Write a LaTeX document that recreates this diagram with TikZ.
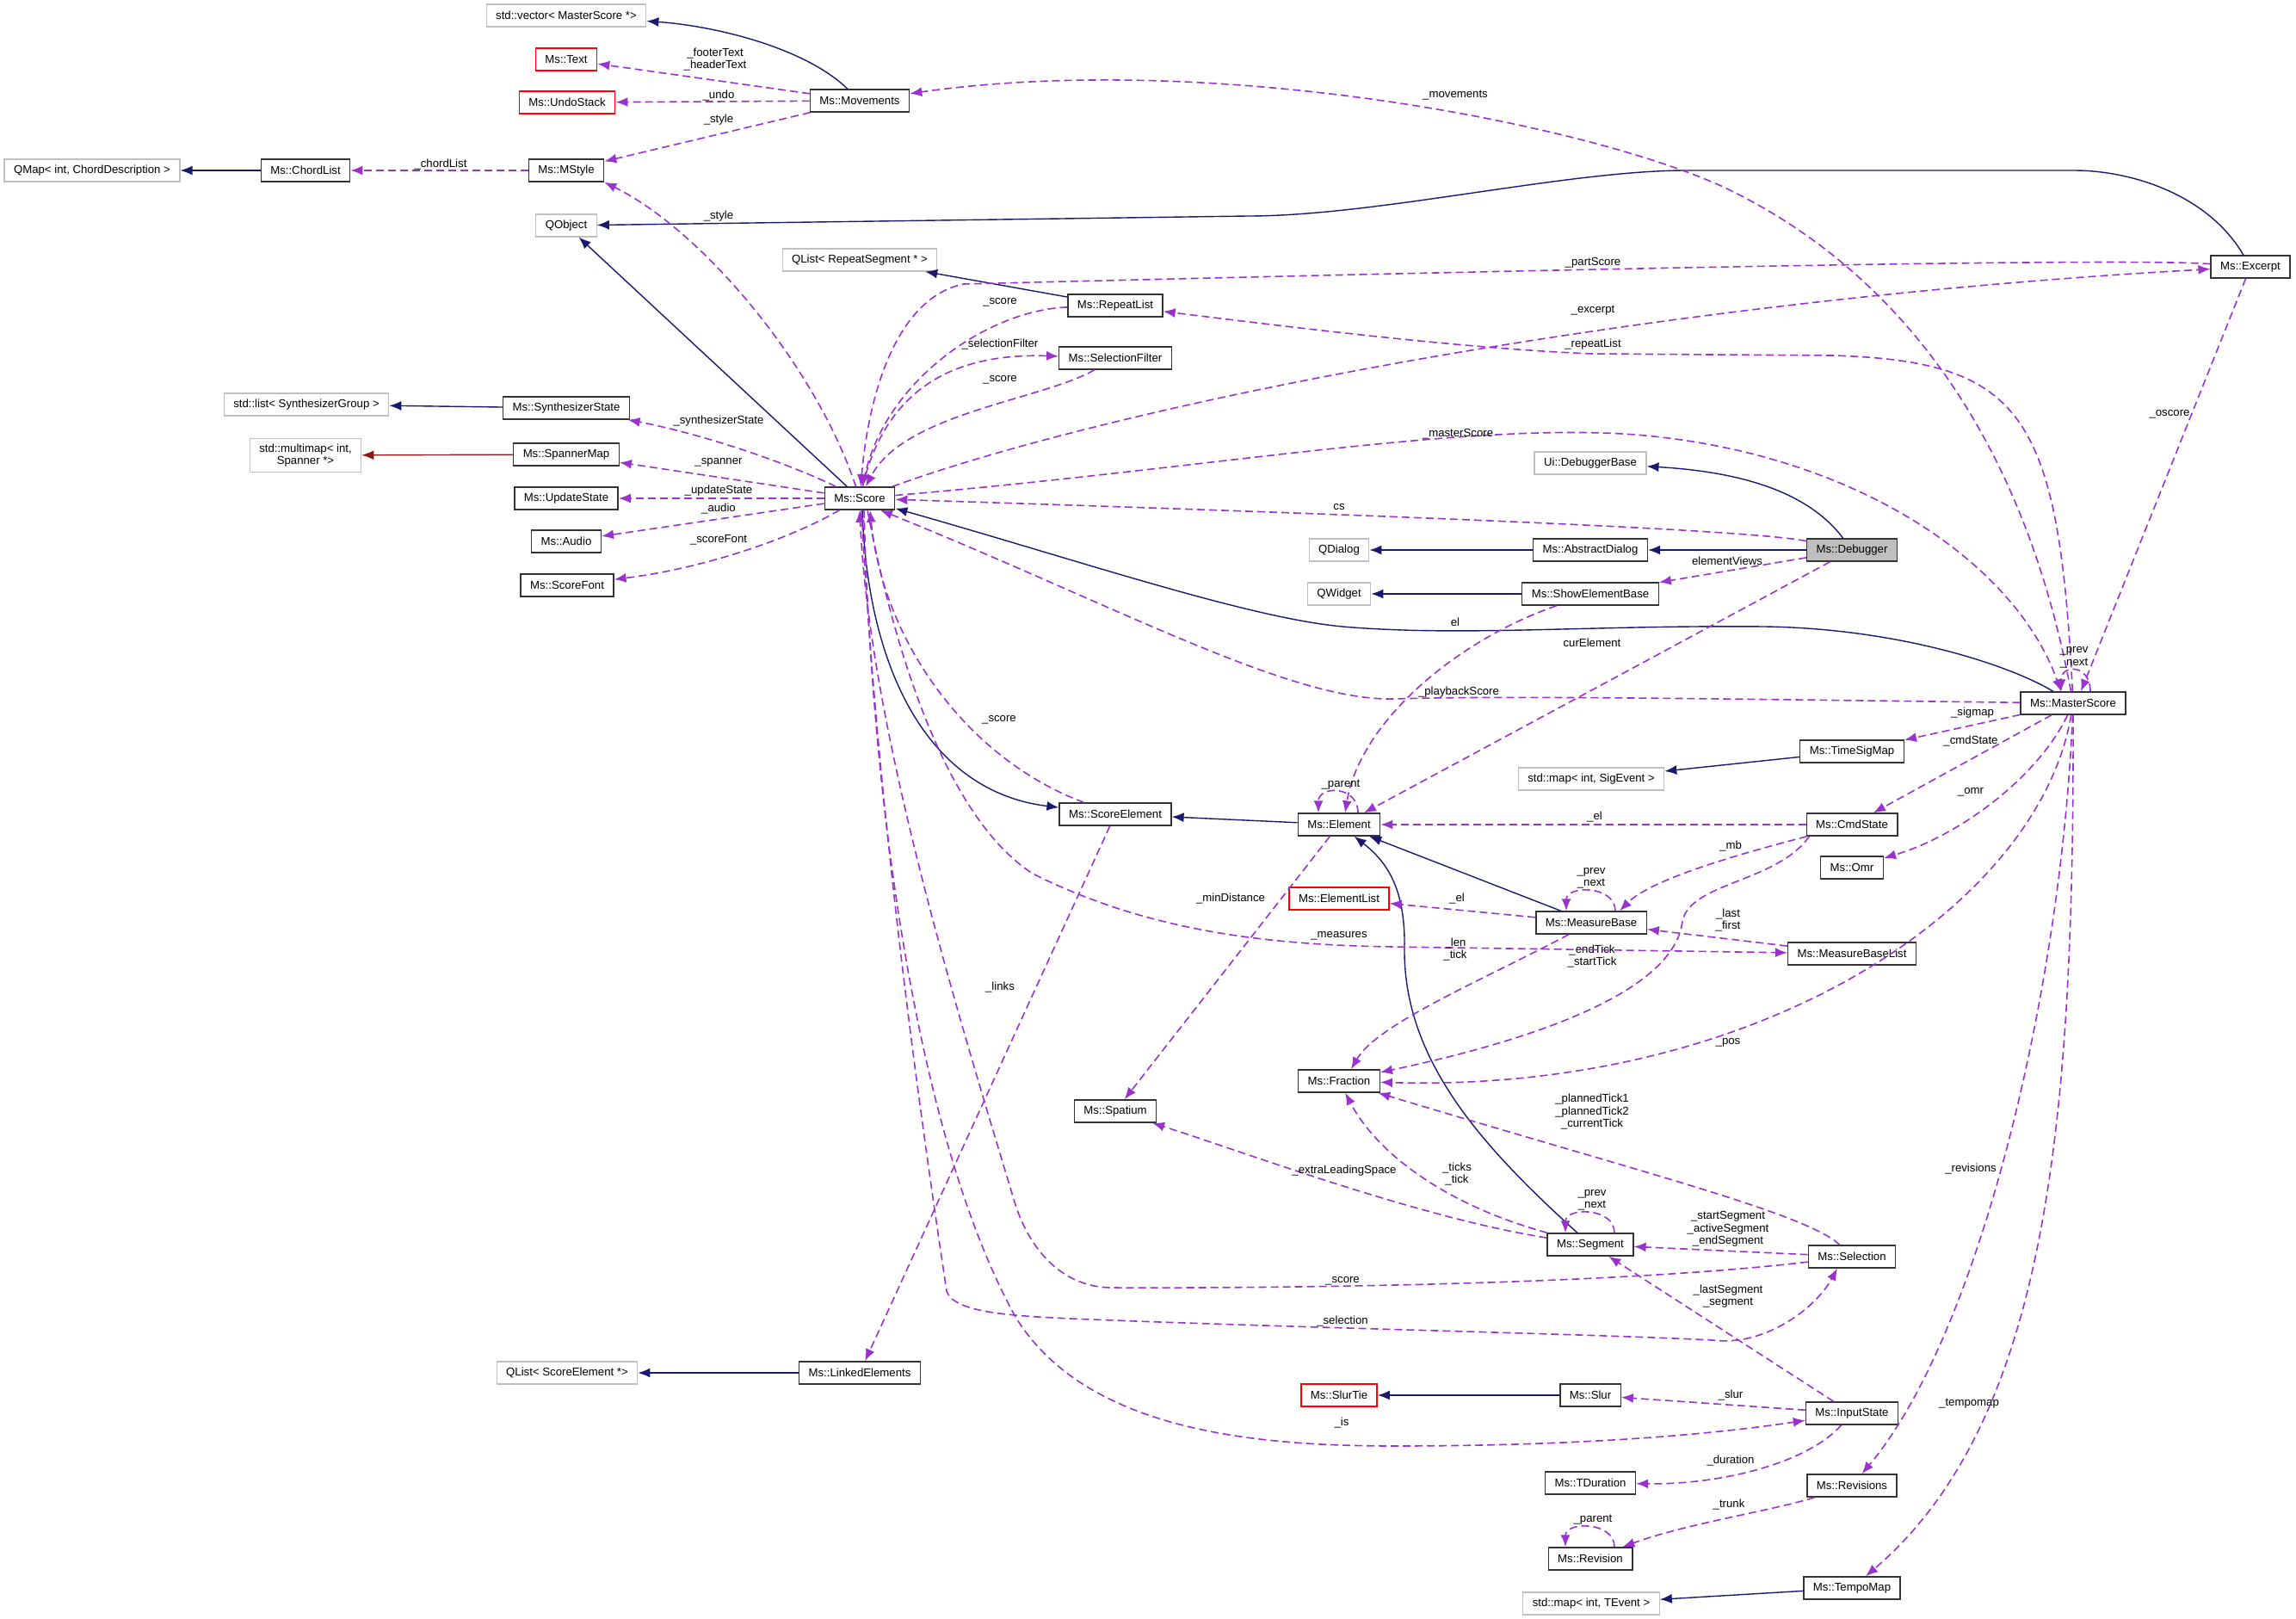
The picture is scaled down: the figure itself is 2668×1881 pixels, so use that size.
\documentclass[tikz,border=0pt]{standalone}
\usepackage{fontspec}
\setmainfont{Liberation Sans}
\usetikzlibrary{arrows.meta,positioning,calc}
\usepackage{xcolor}
\definecolor{midnight}{HTML}{191970}
\definecolor{orchid}{HTML}{9A32CD}
\definecolor{firebrick}{HTML}{8B1A1A}
\definecolor{grey75}{HTML}{BFBFBF}
\definecolor{boxline}{HTML}{333333}
\newcommand{\dxfont}{\fontsize{13.2}{14.5}\selectfont}
\tikzset{
  base/.style={font=\dxfont,align=center,draw=boxline,line width=1.4pt,fill=white,inner xsep=11pt,inner ysep=2pt,minimum height=26pt},
  cls/.style={base},
  ext/.style={base,draw=grey75,line width=1.2pt},
  undoc/.style={base,draw=red},
  root/.style={base,fill=grey75},
  inh/.style={-{Latex[length=14pt,width=11pt]},line width=1.4pt,draw=midnight},
  prot/.style={inh,draw=firebrick},
  use/.style={-{Latex[length=14pt,width=11pt]},line width=1.6pt,draw=orchid,dash pattern=on 9pt off 5pt},
  lbl/.style={font=\dxfont,align=center,inner sep=0pt}
}

\begin{document}
\begin{tikzpicture}[x=1pt,y=-1pt]
\useasboundingbox (0,0) rectangle (2668,1881);

\node[ext] (vecms) at (658,18) {std::vector< MasterScore *>};
\node[undoc] (text) at (658,69) {Ms::Text};
\node[undoc] (undostack) at (659,119) {Ms::UndoStack};
\node[cls] (movements) at (999,117) {Ms::Movements};
\node[cls] (mstyle) at (658,198) {Ms::MStyle};
\node[cls] (chordlist) at (355,198) {Ms::ChordList};
\node[ext] (qmapchord) at (107,198) {QMap< int, ChordDescription >};
\node[ext] (qobject) at (658,262) {QObject};
\node[ext] (qlistrep) at (999,302) {QList< RepeatSegment * >};
\node[ext] (synthgroup) at (356,470) {std::list< SynthesizerGroup >};
\node[cls] (synthstate) at (658,474) {Ms::SynthesizerState};
\node[ext,inner ysep=6pt] (spanmulti) at (355,529) {std::multimap< int,\\Spanner *>};
\node[cls] (spannermap) at (658,528) {Ms::SpannerMap};
\node[cls] (updatestate) at (658,579) {Ms::UpdateState};
\node[cls] (score) at (999,579) {Ms::Score};
\node[cls] (audio) at (658,629) {Ms::Audio};
\node[cls] (scorefont) at (659,680) {Ms::ScoreFont};
\node[cls] (excerpt) at (2615,310) {Ms::Excerpt};
\node[cls] (repeatlist) at (1296,355) {Ms::RepeatList};
\node[cls] (selfilter) at (1296,416) {Ms::SelectionFilter};
\node[ext] (dbgbase) at (1848,538) {Ui::DebuggerBase};
\node[root] (debugger) at (2152,639) {Ms::Debugger};
\node[cls] (absdialog) at (1848,639) {Ms::AbstractDialog};
\node[ext] (qdialog) at (1556,639) {QDialog};
\node[cls] (showelem) at (1848,690) {Ms::ShowElementBase};
\node[ext] (qwidget) at (1556,690) {QWidget};
\node[cls] (masterscore) at (2409,817) {Ms::MasterScore};
\node[cls] (timesigmap) at (2152,873) {Ms::TimeSigMap};
\node[ext] (sigevmap) at (1849,905) {std::map< int, SigEvent >};
\node[cls] (element) at (1556,958) {Ms::Element};
\node[cls] (cmdstate) at (2152,958) {Ms::CmdState};
\node[cls] (omr) at (2152,1008) {Ms::Omr};
\node[cls] (scoreelem) at (1296,946) {Ms::ScoreElement};
\node[undoc] (elemlist) at (1556,1044) {Ms::ElementList};
\node[cls] (measurebase) at (1849,1072) {Ms::MeasureBase};
\node[cls] (mblist) at (2152,1108) {Ms::MeasureBaseList};
\node[cls] (fraction) at (1556,1256) {Ms::Fraction};
\node[cls] (spatium) at (1296,1291) {Ms::Spatium};
\node[cls] (segment) at (1848,1446) {Ms::Segment};
\node[cls] (selection) at (2152,1460) {Ms::Selection};
\node[cls] (linked) at (999,1595) {Ms::LinkedElements};
\node[ext] (qlistse) at (659,1595) {QList< ScoreElement *>};
\node[undoc] (slurtie) at (1556,1621) {Ms::SlurTie};
\node[cls] (slur) at (1848,1621) {Ms::Slur};
\node[cls] (inputstate) at (2152,1642) {Ms::InputState};
\node[cls] (tduration) at (1848,1723) {Ms::TDuration};
\node[cls] (revisions) at (2152,1726) {Ms::Revisions};
\node[cls] (revision) at (1848,1811) {Ms::Revision};
\node[cls] (tempomap) at (2152,1845) {Ms::TempoMap};
\node[ext] (tevmap) at (1849,1863) {std::map< int, TEvent >};

\draw[inh] (movements) .. controls (935,55) and (830,30) .. (vecms);
\draw[inh] (chordlist) -- (qmapchord);
\draw[inh] (excerpt) .. controls (2565,225) and (2475,198) .. (2410,198) -- (1960,198) .. controls (1820,198) and (1600,251) .. (1450,251) -- (qobject);
\draw[inh] (score) -- (qobject);
\draw[inh] (repeatlist) -- (qlistrep);
\draw[inh] (synthstate) -- (synthgroup);
\draw[prot] (spannermap) -- (spanmulti);
\draw[inh] (debugger) .. controls (2100,570) and (2020,548) .. (dbgbase);
\draw[inh] (debugger) -- (absdialog);
\draw[inh] (absdialog) -- (qdialog);
\draw[inh] (showelem) -- (qwidget);
\draw[inh] (masterscore) .. controls (2330,770) and (2200,730) .. (2050,728) .. controls (1850,726) and (1700,740) .. (1560,728) .. controls (1450,718) and (1250,650) .. (score);
\draw[inh] ([xshift=3pt]score.south) .. controls (1008,780) and (1080,920) .. (scoreelem);
\draw[inh] (element) -- (scoreelem);
\draw[inh] (measurebase) -- (element);
\draw[inh] (segment) .. controls (1720,1330) and (1630,1230) .. (1632,1100) .. controls (1633,1030) and (1610,1000) .. (element);
\draw[inh] (timesigmap) -- (sigevmap);
\draw[inh] (slur) -- (slurtie);
\draw[inh] (linked) -- (qlistse);
\draw[inh] (tempomap) -- (tevmap);

\draw[use] (movements) -- (text) node[lbl] at (831,69) {\_footerText\\\_headerText};
\draw[use] (movements) -- (undostack) node[lbl] at (835,111) {\_undo};
\draw[use] (movements) -- (mstyle) node[lbl] at (835,139) {\_style};
\draw[use] (mstyle) -- (chordlist) node[lbl] at (512,191) {\_chordList};
\draw[use] (score) .. controls (950,430) and (820,270) .. (mstyle.south east) node[lbl] at (835,251) {\_style};
\draw[use] (masterscore) .. controls (2350,500) and (2200,310) .. (2000,216) .. controls (1830,140) and (1400,60) .. (movements) node[lbl] at (1691,111) {\_movements};
\draw[use] (excerpt) .. controls (2450,298) and (1600,318) .. (1120,330) .. controls (1045,345) and (1010,450) .. (score) node[lbl] at (1851,305) {\_partScore};
\draw[use] (repeatlist) .. controls (1150,360) and (1030,440) .. (score) node[lbl] at (1162,351) {\_score};
\draw[use] (score) .. controls (1030,450) and (1110,410) .. (selfilter) node[lbl] at (1162,400) {\_selectionFilter};
\draw[use] (selfilter) .. controls (1210,465) and (1050,480) .. (score) node[lbl] at (1162,441) {\_score};
\draw[use] (score) .. controls (1300,470) and (1900,350) .. (excerpt) node[lbl] at (1851,361) {\_excerpt};
\draw[use] (masterscore) .. controls (2392,480) and (2350,420) .. (2130,413) -- (1850,411) .. controls (1700,405) and (1500,380) .. (repeatlist) node[lbl] at (1851,400) {\_repeatList};
\draw[use] (excerpt) -- ([xshift=9pt]masterscore.north) node[lbl] at (2521,481) {\_oscore};
\draw[use] (score) .. controls (1400,545) and (1700,490) .. (1900,505) .. controls (2150,525) and (2340,650) .. ([xshift=-14pt]masterscore.north) node[lbl] at (1694,504) {\_masterScore};
\draw[use] (debugger) .. controls (2030,615) and (1600,598) .. (score) node[lbl] at (1556,589) {cs};
\draw[use] (debugger) -- (showelem) node[lbl] at (2007,652) {elementViews};
\draw[use] (debugger) -- ([xshift=29pt]element.north) node[lbl] at (1850,747) {curElement};
\draw[use] (showelem) .. controls (1690,745) and (1580,840) .. ([xshift=7pt]element.north) node[lbl] at (1691,723) {el};
\draw[use] (masterscore) .. controls (2000,812) and (1750,808) .. (1620,812) .. controls (1500,815) and (1300,705) .. ([xshift=24pt]score.south) node[lbl] at (1695,804) {\_playbackScore};
\draw[use] ([xshift=20pt]masterscore.north) .. controls +(0,-32) and +(0,-32) .. ([xshift=-14pt]masterscore.north) node[lbl] at (2410,764) {\_prev\\\_next};
\draw[use] (masterscore) -- (timesigmap) node[lbl] at (2292,828) {\_sigmap};
\draw[use] (masterscore) -- (cmdstate) node[lbl] at (2290,861) {\_cmdState};
\draw[use] (masterscore) .. controls (2370,900) and (2280,970) .. (omr) node[lbl] at (2290,920) {\_omr};
\draw[use] ([xshift=22pt]element.north) .. controls +(0,-32) and +(0,-32) .. ([xshift=-24pt]element.north) node[lbl] at (1558,912) {\_parent};
\draw[use] (cmdstate) -- (element) node[lbl] at (1853,949) {\_el};
\draw[use] (cmdstate) .. controls (2030,990) and (1920,1020) .. ([xshift=33pt]measurebase.north) node[lbl] at (2011,983) {\_mb};
\draw[use] ([xshift=4pt]cmdstate.south west) .. controls (2065,1025) and (1965,1025) .. (1955,1070) .. controls (1945,1160) and (1750,1215) .. (fraction) node[lbl] at (1850,1111) {\_endTick\\\_startTick};
\draw[use] ([xshift=28pt]measurebase.north) .. controls +(0,-30) and +(0,-30) .. ([xshift=-29pt]measurebase.north) node[lbl] at (1849,1020) {\_prev\\\_next};
\draw[use] (measurebase) -- (elemlist) node[lbl] at (1693,1044) {\_el};
\draw[use] (mblist) -- (measurebase) node[lbl] at (2008,1069) {\_last\\\_first};
\draw[use] ([xshift=9pt]score.south) .. controls (1040,760) and (1100,950) .. (1200,1015) .. controls (1320,1075) and (1450,1098) .. (1620,1100) -- (mblist) node[lbl] at (1556,1087) {\_measures};
\draw[use] (measurebase) .. controls (1720,1140) and (1600,1190) .. ([xshift=14pt]fraction.north) node[lbl] at (1691,1103) {\_len\\\_tick};
\draw[use] (masterscore) .. controls (2370,1050) and (2050,1270) .. (fraction) node[lbl] at (2008,1211) {\_pos};
\draw[use] (element) -- (spatium) node[lbl] at (1430,1044) {\_minDistance};
\draw[use] (scoreelem) .. controls (1120,880) and (1025,740) .. ([xshift=12pt]score.south) node[lbl] at (1161,836) {\_score};
\draw[use] (scoreelem) -- (linked) node[lbl] at (1162,1147) {\_links};
\draw[use] (selection) .. controls (2100,1410) and (1900,1360) .. (fraction) node[lbl] at (1850,1292) {\_plannedTick1\\\_plannedTick2\\\_currentTick};
\draw[use] (segment) .. controls (1650,1415) and (1450,1340) .. (spatium) node[lbl] at (1562,1360) {\_extraLeadingSpace};
\draw[use] (segment) .. controls (1680,1400) and (1600,1340) .. (fraction) node[lbl] at (1693,1364) {\_ticks\\\_tick};
\draw[use] ([xshift=28pt]segment.north) .. controls +(0,-30) and +(0,-30) .. ([xshift=-29pt]segment.north) node[lbl] at (1850,1394) {\_prev\\\_next};
\draw[use] (selection) -- (segment) node[lbl] at (2008,1428) {\_startSegment\\\_activeSegment\\\_endSegment};
\draw[use] (selection) .. controls (1900,1490) and (1550,1497) .. (1290,1496) .. controls (1240,1495) and (1200,1460) .. (1180,1400) .. controls (1120,1200) and (1010,850) .. (score.south) node[lbl] at (1560,1488) {\_score};
\draw[use] ([xshift=2pt]score.south) .. controls (1020,950) and (1070,1300) .. (1100,1500) .. controls (1110,1530) and (1200,1530) .. (1320,1535) .. controls (1600,1545) and (1850,1550) .. (1990,1557) .. controls (2050,1565) and (2110,1520) .. ([xshift=-17pt]selection.south) node[lbl] at (1560,1535) {\_selection};
\draw[use] (inputstate) -- (segment) node[lbl] at (2008,1506) {\_lastSegment\\\_segment};
\draw[use] (inputstate) -- (slur) node[lbl] at (2011,1621) {\_slur};
\draw[use] ([xshift=5pt]score.south) .. controls (1015,1000) and (1080,1350) .. (1180,1530) .. controls (1260,1660) and (1450,1680) .. (1620,1680) .. controls (1850,1680) and (2000,1665) .. (inputstate) node[lbl] at (1559,1653) {\_is};
\draw[use] (inputstate) .. controls (2100,1700) and (2000,1725) .. (tduration) node[lbl] at (2011,1697) {\_duration};
\draw[use] (masterscore) .. controls (2395,1150) and (2300,1550) .. (revisions) node[lbl] at (2290,1358) {\_revisions};
\draw[use] (revisions) .. controls (2060,1755) and (1960,1770) .. (revision) node[lbl] at (2009,1748) {\_trunk};
\draw[use] ([xshift=28pt]revision.north) .. controls +(0,-30) and +(0,-30) .. ([xshift=-29pt]revision.north) node[lbl] at (1851,1766) {\_parent};
\draw[use] (masterscore) .. controls (2410,1300) and (2380,1650) .. (tempomap) node[lbl] at (2288,1631) {\_tempomap};
\draw[use] (score) .. controls (920,540) and (820,505) .. (synthstate) node[lbl] at (835,489) {\_synthesizerState};
\draw[use] (score) -- (spannermap) node[lbl] at (835,537) {\_spanner};
\draw[use] (score) -- (updatestate) node[lbl] at (835,570) {\_updateState};
\draw[use] (score) -- (audio) node[lbl] at (835,591) {\_audio};
\draw[use] (score) .. controls (920,625) and (820,660) .. (scorefont) node[lbl] at (835,627) {\_scoreFont};
\end{tikzpicture}
\end{document}
